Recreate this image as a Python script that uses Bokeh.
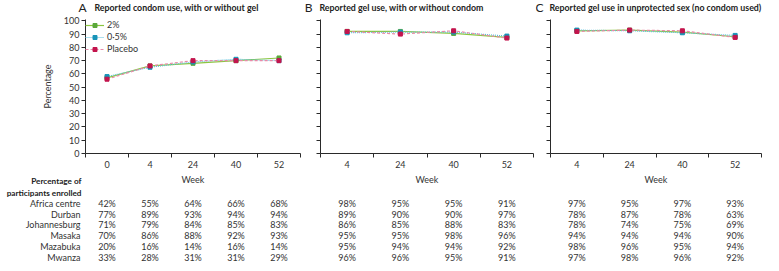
from bokeh.plotting import figure
from bokeh.models import Range1d, FixedTicker, Legend, LegendItem
from bokeh.layouts import column, row
from bokeh.embed import file_html
from bokeh.resources import INLINE
from bokeh.core.properties import value

# ---------------- data ----------------
weeks_A = ["0", "4", "24", "40", "52"]
weeks_BC = ["4", "24", "40", "52"]

series_names = ["2%", "0\u00b75%", "Placebo"]

# Panel A: reported condom use, with or without gel (%)
A_2 = [57, 66, 68, 70, 72]
A_05 = [58, 65, 69, 71, 70]
A_pl = [56, 66, 70, 70, 70]

# Panel B: reported gel use, with or without condom (%)
B_2 = [92, 92, 90.5, 87.5]
B_05 = [91, 91.5, 91.5, 88.5]
B_pl = [92, 90, 92.5, 87]

# Panel C: reported gel use in unprotected sex (%)
C_2 = [92.5, 93, 91.5, 88]
C_05 = [93, 92.5, 91, 89]
C_pl = [92, 93, 92.5, 87.5]

sites = ["Africa centre", "Durban", "Johannesburg", "Masaka", "Mazabuka", "Mwanza"]

enrol_A = [
    [42, 55, 64, 66, 68],
    [77, 89, 93, 94, 94],
    [71, 79, 84, 85, 83],
    [70, 86, 88, 92, 93],
    [20, 16, 14, 16, 14],
    [33, 28, 31, 31, 29],
]
enrol_B = [
    [98, 95, 95, 91],
    [89, 90, 90, 97],
    [86, 85, 88, 83],
    [95, 95, 98, 96],
    [95, 94, 94, 92],
    [96, 96, 95, 91],
]
enrol_C = [
    [97, 95, 97, 93],
    [78, 87, 78, 63],
    [78, 74, 75, 69],
    [94, 94, 94, 90],
    [98, 96, 95, 94],
    [97, 98, 96, 92],
]

letters = ["A", "B", "C"]
titles = [
    "Reported condom use, with or without gel",
    "Reported gel use, with or without condom",
    "Reported gel use in unprotected sex (no condom used)",
]

# ---------------- styles ----------------
FONT = "Lato"
TXT = "#333333"
AX = "#2a2a2a"
line_cols = ["#8cc63f", "#5bc0de", "#e98aa9"]
mark_cols = ["#5aa83a", "#1894b8", "#c3144d"]
dashes = ["solid", "1 1", "3 2"]

TITLE_H = 15
TOP_H = 155
BOT_H = 92
FRAME_TOP = 4
FRAME_BOT = 14
YMAX = 101


def blank_fig(n, bl, fw, br, h):
    px = fw / n
    p = figure(width=bl + fw + br, height=h,
               x_range=Range1d(-bl / px, n + br / px), y_range=Range1d(h, 0),
               output_backend="svg", toolbar_location=None,
               x_axis_location=None, y_axis_location=None,
               min_border_left=0, min_border_right=0, min_border_top=0, min_border_bottom=0)
    p.outline_line_color = None
    p.grid.visible = False
    p.background_fill_color = None
    p.border_fill_color = None
    return p, px


def title_fig(n, bl, fw, br, letter, title, loff, toff):
    p, px = blank_fig(n, bl, fw, br, TITLE_H)
    p.text(x=[0], y=[7], text=[letter], x_offset=loff, text_align="right",
           text_baseline="middle", text_font=value(FONT), text_font_size=value("12px"),
           text_color="#222222")
    p.text(x=[0], y=[7], text=[title], x_offset=toff, text_align="left",
           text_baseline="middle", text_font=value(FONT), text_font_size=value("8.8px"),
           text_font_style="bold", text_color="#222222")
    return p


def top_fig(weeks, series, bl, fw, br, first):
    n = len(weeks)
    xs = [i + 0.5 for i in range(n)]
    p = figure(width=bl + fw + br, height=TOP_H, x_range=Range1d(0, n), y_range=Range1d(0, YMAX),
               output_backend="svg", toolbar_location=None,
               min_border_left=bl, min_border_right=br, min_border_top=FRAME_TOP,
               min_border_bottom=FRAME_BOT)
    p.outline_line_color = None
    p.grid.visible = False
    p.background_fill_color = None
    p.border_fill_color = None

    xa = p.xaxis[0]
    xa.ticker = FixedTicker(ticks=xs, minor_ticks=list(range(n + 1)))
    xa.major_label_overrides = {x: w for x, w in zip(xs, weeks)}
    xa.major_tick_out = 0
    xa.major_tick_in = 0
    xa.minor_tick_out = 4
    xa.minor_tick_in = 0
    xa.minor_tick_line_color = AX
    xa.axis_line_color = AX
    xa.major_label_standoff = 3
    xa.major_label_text_font = FONT
    xa.major_label_text_font_size = "9px"
    xa.major_label_text_color = TXT

    ya = p.yaxis[0]
    ticks_y = list(range(0, 101, 10))
    ya.ticker = FixedTicker(ticks=ticks_y, minor_ticks=[])
    ya.major_tick_out = 4
    ya.major_tick_in = 0
    ya.major_tick_line_color = AX
    ya.axis_line_color = AX
    ya.major_label_text_font = FONT
    ya.major_label_text_font_size = "9px"
    ya.major_label_text_color = TXT
    if first:
        ya.major_label_standoff = 2
        ya.axis_label = "Percentage"
        ya.axis_label_text_font = FONT
        ya.axis_label_text_font_size = "9px"
        ya.axis_label_text_font_style = "normal"
        ya.axis_label_text_color = TXT
        ya.axis_label_standoff = 8
    else:
        ya.major_label_standoff = 0
        ya.major_label_overrides = {t: "" for t in ticks_y}

    items = []
    for k, vals in enumerate(series):
        l = p.line(xs, vals, line_color=line_cols[k], line_width=1.2, line_dash=dashes[k])
        s = p.scatter(xs, vals, marker="square", size=4, fill_color=mark_cols[k],
                      line_color=mark_cols[k])
        items.append(LegendItem(label=series_names[k], renderers=[l, s]))

    if first:
        lg = Legend(items=items, location="top_left", border_line_color=None,
                    background_fill_alpha=0, label_text_font=FONT,
                    label_text_font_size="9px", label_text_color=TXT,
                    glyph_width=19, glyph_height=10, label_height=10,
                    label_standoff=3, spacing=1, padding=0, margin=0)
        p.add_layout(lg)
    return p


ROW0 = 33
ROWH = 10.7


def bot_fig(weeks, table, bl, fw, br, first):
    n = len(weeks)
    p, px = blank_fig(n, bl, fw, br, BOT_H)

    xs, ys, ts = [], [], []
    for r, vals in enumerate(table):
        for i, v in enumerate(vals):
            xs.append(i + 0.5)
            ys.append(ROW0 + r * ROWH)
            ts.append(f"{v}%")
    p.text(x=xs, y=ys, text=ts, text_align="center", text_baseline="middle",
           text_font=value(FONT), text_font_size=value("9px"), text_color=TXT)
    p.text(x=[n / 2], y=[9], text=["Week"], text_align="center", text_baseline="middle",
           text_font=value(FONT), text_font_size=value("9px"), text_color=TXT)
    if first:
        p.text(x=[0] * len(sites), y=[ROW0 + r * ROWH for r in range(len(sites))], text=sites,
               x_offset=-5, text_align="right", text_baseline="middle",
               text_font=value(FONT), text_font_size=value("9px"), text_color=TXT)
        p.text(x=[0, 0], y=[10, 22], text=["Percentage of", "participants enrolled"],
               x_offset=-4, text_align="right", text_baseline="middle", text_font_style="bold",
               text_font=value(FONT), text_font_size=value("8.2px"), text_color="#222222")
    return p


# (left border, frame width, right border) of each panel, in px
geo = [(85, 215, 3), (17, 213, 2), (15, 211, 1)]
letter_off = [(1, 9), (-8, -1), (-7, -1)]
series_all = [(A_2, A_05, A_pl), (B_2, B_05, B_pl), (C_2, C_05, C_pl)]
weeks_all = [weeks_A, weeks_BC, weeks_BC]
tables = [enrol_A, enrol_B, enrol_C]

heads, tops, bots = [], [], []
for k in range(3):
    bl, fw, br = geo[k]
    n = len(weeks_all[k])
    heads.append(title_fig(n, bl, fw, br, letters[k], titles[k], *letter_off[k]))
    tops.append(top_fig(weeks_all[k], series_all[k], bl, fw, br, k == 0))
    bots.append(bot_fig(weeks_all[k], tables[k], bl, fw, br, k == 0))

layout = column(row(*heads, spacing=0), row(*tops, spacing=0), row(*bots, spacing=0), spacing=0)

open("out.html", "w").write(file_html(layout, INLINE))
